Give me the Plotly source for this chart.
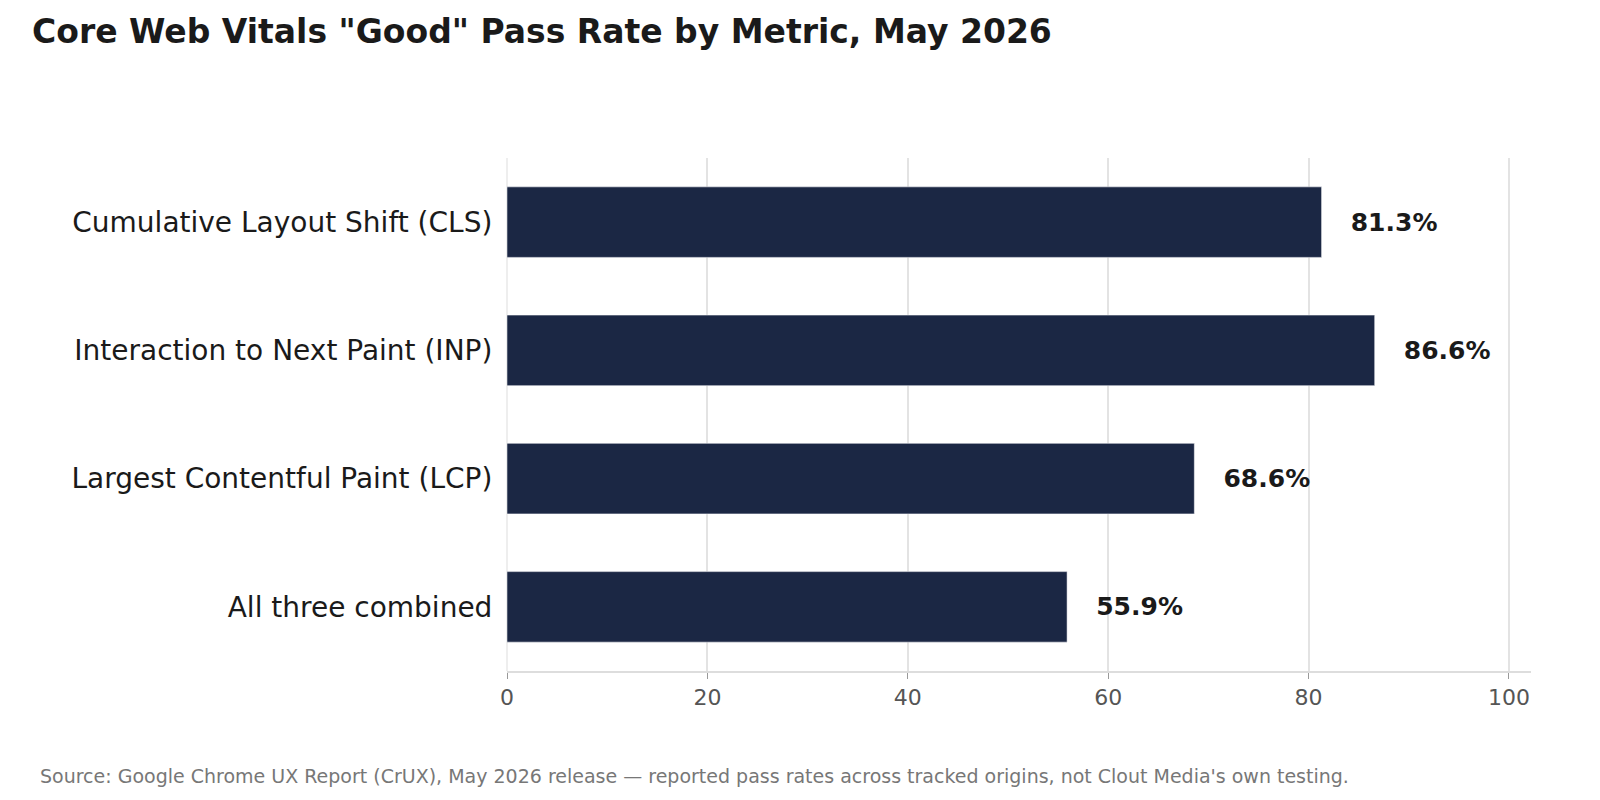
import plotly.graph_objects as go

metrics = ["All three combined", "Largest Contentful Paint (LCP)",
           "Interaction to Next Paint (INP)", "Cumulative Layout Shift (CLS)"]
pass_rates = [55.9, 68.6, 86.6, 81.3]
labels = [f"   {v:.1f}%" for v in pass_rates]

fig = go.Figure()
fig.add_trace(go.Bar(
    x=pass_rates, y=metrics, orientation="h", width=0.55,
    marker=dict(color="#1B2744"),
    text=labels, textposition="outside", cliponaxis=False,
    textfont=dict(size=25, color="#1a1a1a", family="DejaVu Sans", weight="bold"),
))
fig.update_layout(
    width=1600, height=800,
    template="plotly_white",
    font=dict(family="DejaVu Sans", color="#1a1a1a"),
    title=dict(text="<b>Core Web Vitals \"Good\" Pass Rate by Metric, May 2026</b>",
               x=0.015, y=0.985, xanchor="left", yanchor="top",
               font=dict(size=33, color="#1a1a1a")),
    margin=dict(l=499, r=77, t=150, b=137),
    showlegend=False,
)
fig.update_xaxes(range=[0, 102.2], tickvals=[0, 20, 40, 60, 80, 100],
                 tickfont=dict(size=22, color="#555555"),
                 showgrid=True, gridcolor="#e3e3e3", gridwidth=1.5,
                 showline=True, linecolor="#dddddd", linewidth=1.5,
                 ticks="outside", ticklen=6, tickcolor="#999999",
                 zeroline=True, zerolinecolor="#eeeeee")
fig.update_yaxes(tickfont=dict(size=28, color="#1a1a1a"), ticklen=8,
                 ticks="outside", tickcolor="rgba(0,0,0,0)", showgrid=False)
fig.add_annotation(
    text="Source: Google Chrome UX Report (CrUX), May 2026 release — reported pass rates across tracked origins, not Clout Media's own testing.",
    xref="paper", yref="paper", x=-0.458, y=-0.18, xanchor="left", yanchor="top",
    showarrow=False, font=dict(size=19, color="#777777"),
)
fig.write_html("out.html")
